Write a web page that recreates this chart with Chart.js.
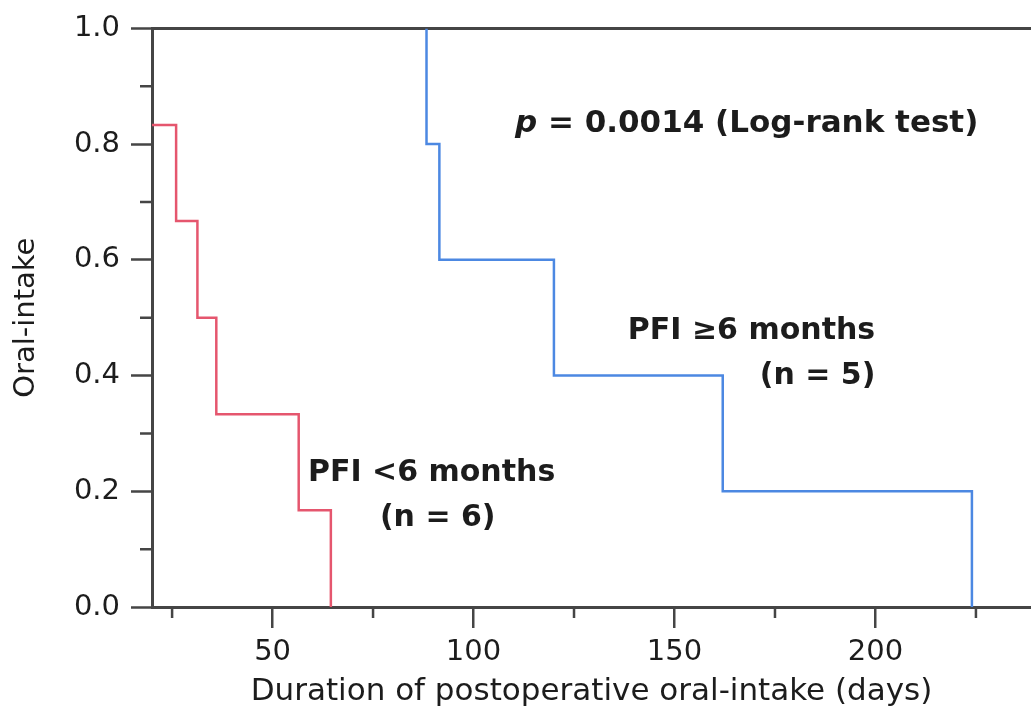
<!DOCTYPE html>
<html>
<head>
<meta charset="utf-8">
<script src="https://cdn.jsdelivr.net/npm/chart.js@4/dist/chart.umd.min.js"></script>
<style>
  html, body { margin: 0; padding: 0; background: #fff; }
</style>
</head>
<body>
<canvas id="kmChart" width="1031" height="713"></canvas>
<script>
// tick values
const xTicks = [50, 100, 150, 200];
const xMinorTicks = [25, 75, 125, 175, 225];
const yTicks = [0, 0.2, 0.4, 0.6, 0.8, 1.0];
const yMinorTicks = [0.1, 0.3, 0.5, 0.7, 0.9];

// PFI <6 months (n = 6)
const shortDays = [20, 26, 31.3, 36, 56.5, 64.5];
const shortSurv = [0.833, 0.667, 0.5, 0.333, 0.167, 0];

// PFI >=6 months (n = 5)
const longDays = [88.3, 88.3, 91.5, 120, 162, 224];
const longSurv = [1.0, 0.8, 0.6, 0.4, 0.2, 0];

const axisColor = '#454545';
const textColor = '#1c1c1c';
const fontFamily = '"DejaVu Sans", sans-serif';

const toPoints = (xs, ys) => xs.map((x, i) => ({ x: x, y: ys[i] }));

// short minor tick marks, placed through the scales
const minorTicks = {
    id: 'minorTicks',
    afterDraw(chart) {
        const { ctx, scales: { x, y } } = chart;
        ctx.save();
        ctx.strokeStyle = axisColor;
        ctx.lineWidth = 2.5;
        ctx.beginPath();
        xMinorTicks.forEach(v => {
            const px = x.getPixelForValue(v);
            ctx.moveTo(px, y.bottom);
            ctx.lineTo(px, y.bottom + 11);
        });
        yMinorTicks.forEach(v => {
            const py = y.getPixelForValue(v);
            ctx.moveTo(x.left, py);
            ctx.lineTo(x.left - 12, py);
        });
        ctx.stroke();
        ctx.restore();
    }
};

// text labels on the plot
const notes = {
    id: 'notes',
    afterDraw(chart) {
        const { ctx, scales: { x, y } } = chart;
        ctx.save();
        ctx.fillStyle = textColor;
        ctx.textBaseline = 'middle';
        ctx.textAlign = 'left';

        // p value
        let px = x.getPixelForValue(110.3);
        const py = y.getPixelForValue(0.835);
        ctx.font = 'italic bold 31px ' + fontFamily;
        ctx.fillText('p', px, py);
        px += ctx.measureText('p').width;
        ctx.font = 'bold 31px ' + fontFamily;
        ctx.fillText(' = 0.0014 (Log-rank test)', px, py);

        ctx.font = 'bold 30px ' + fontFamily;
        ctx.fillText('PFI \u22656 months', x.getPixelForValue(138.4), y.getPixelForValue(0.477));
        ctx.fillText('(n = 5)', x.getPixelForValue(171.2), y.getPixelForValue(0.399));
        ctx.fillText('PFI <6 months', x.getPixelForValue(58.8), y.getPixelForValue(0.232));
        ctx.fillText('(n = 6)', x.getPixelForValue(76.7), y.getPixelForValue(0.153));
        ctx.restore();
    }
};

const ctx = document.getElementById('kmChart').getContext('2d');

new Chart(ctx, {
    type: 'line',
    data: {
        datasets: [
            {
                label: 'PFI <6 months',
                data: toPoints(shortDays, shortSurv),
                stepped: true,
                borderColor: '#e5566e',
                borderWidth: 2.5,
                pointRadius: 0,
                fill: false,
            },
            {
                label: 'PFI ≥6 months',
                data: toPoints(longDays, longSurv),
                stepped: true,
                borderColor: '#4c88e2',
                borderWidth: 2.5,
                pointRadius: 0,
                fill: false,
            },
        ],
    },
    options: {
        responsive: false,
        animation: false,
        layout: { padding: { top: 26, right: 0, left: 0, bottom: 0 } },
        plugins: {
            legend: { display: false },
            tooltip: { enabled: false },
        },
        scales: {
            x: {
                type: 'linear',
                min: 20,
                max: 238.7,
                afterBuildTicks: scale => { scale.ticks = xTicks.map(v => ({ value: v })); },
                afterFit: scale => { scale.height = 106; },
                border: { display: true, color: axisColor, width: 3 },
                grid: {
                    drawOnChartArea: false,
                    tickLength: 21,
                    color: axisColor,
                    lineWidth: 2.5,
                },
                ticks: {
                    color: textColor,
                    font: { family: fontFamily, size: 29 },
                    padding: 7,
                    maxRotation: 0,
                },
                title: {
                    display: true,
                    text: 'Duration of postoperative oral-intake (days)',
                    color: textColor,
                    font: { family: fontFamily, size: 31 },
                    padding: { top: 0, bottom: 2 },
                },
            },
            y: {
                min: 0,
                max: 1,
                afterBuildTicks: scale => { scale.ticks = yTicks.map(v => ({ value: v })); },
                afterFit: scale => { scale.width = 152; },
                border: { display: true, color: axisColor, width: 3 },
                grid: {
                    tickLength: 21,
                    color: c => (c.tick && c.tick.value === 1 ? axisColor : 'rgba(0,0,0,0)'),
                    tickColor: axisColor,
                    lineWidth: 3,
                    tickWidth: 2.5,
                },
                ticks: {
                    color: textColor,
                    font: { family: fontFamily, size: 29 },
                    padding: 11,
                    callback: v => Number(v).toFixed(1),
                },
                title: {
                    display: true,
                    text: 'Oral-intake',
                    color: textColor,
                    font: { family: fontFamily, size: 29 },
                    padding: { top: 9, bottom: 0 },
                },
            },
        },
    },
    plugins: [minorTicks, notes],
});
</script>
</body>
</html>
